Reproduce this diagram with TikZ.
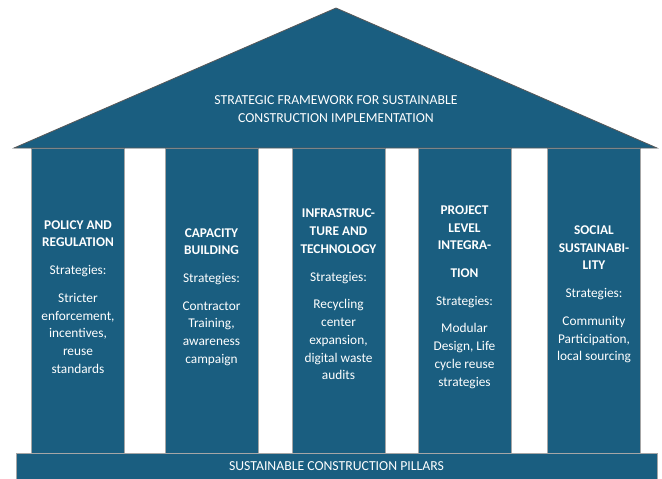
\documentclass[tikz,border=0pt]{standalone}
\usepackage{fontspec}
\setmainfont{Carlito}

\definecolor{pillarblue}{RGB}{26,94,128}
\tikzstyle{pillar}=[draw=gray!70, fill=pillarblue, minimum width=69.4pt, minimum height=228.75pt, inner sep=0pt]
\tikzstyle{pillartext}=[text=white, align=center, font=\fontsize{10}{13.3}\selectfont, inner sep=0pt]
\tikzstyle{captext}=[text=white, align=center, font=\fontsize{10.3}{13.5}\selectfont, inner sep=0pt]

\begin{document}
\begin{tikzpicture}[x=0.75pt, y=-0.75pt]
            \useasboundingbox (0,0) rectangle (662,479);

            % Sloupy
            \node[pillar] (P1) at (78,300.5) {};
            \node[pillar] (P2) at (211.5,300.5) {};
            \node[pillar] (P3) at (338.5,300.5) {};
            \node[pillar] (P4) at (464.5,300.5) {};
            \node[pillar] (P5) at (594,300.5) {};

            % Střecha
            \filldraw[fill=pillarblue, draw=gray!70!black, line width=0.6pt] (14,148) -- (336,8) -- (657,148) -- cycle;
            \node[captext] (roof) at (336,109) {STRATEGIC FRAMEWORK FOR SUSTAINABLE\\CONSTRUCTION IMPLEMENTATION};

            % Základ
            \node[pillar, minimum width=480.75pt, minimum height=19.5pt] (base) at (336.5,466) {};
            \node[captext] (baselabel) at (base.center) {SUSTAINABLE CONSTRUCTION PILLARS};

            % Texty ve sloupech
            \node[pillartext] (T1) at (78,297) {\textbf{POLICY AND}\\\textbf{REGULATION}\\[7.5pt]Strategies:\\[7.5pt]Stricter\\enforcement,\\incentives,\\reuse\\standards};
            \node[pillartext] (T2) at (211.5,297) {\textbf{CAPACITY}\\\textbf{BUILDING}\\[7.5pt]Strategies:\\[7.5pt]Contractor\\Training,\\awareness\\campaign};
            \node[pillartext] (T3) at (338.5,294.5) {\textbf{INFRASTRUC-}\\\textbf{TURE AND}\\\textbf{TECHNOLOGY}\\[7.5pt]Strategies:\\[7.5pt]Recycling\\center\\expansion,\\digital waste\\audits};
            \node[pillartext] (T4) at (464.5,297) {\textbf{PROJECT}\\\textbf{LEVEL}\\\textbf{INTEGRA-}\\[7.5pt]\textbf{TION}\\[7.5pt]Strategies:\\[7.5pt]Modular\\Design, Life\\cycle reuse\\strategies};
            \node[pillartext] (T5) at (594,294.5) {\textbf{SOCIAL}\\\textbf{SUSTAINABI-}\\\textbf{LITY}\\[7.5pt]Strategies:\\[7.5pt]Community\\Participation,\\local sourcing};
        \end{tikzpicture}
\end{document}
